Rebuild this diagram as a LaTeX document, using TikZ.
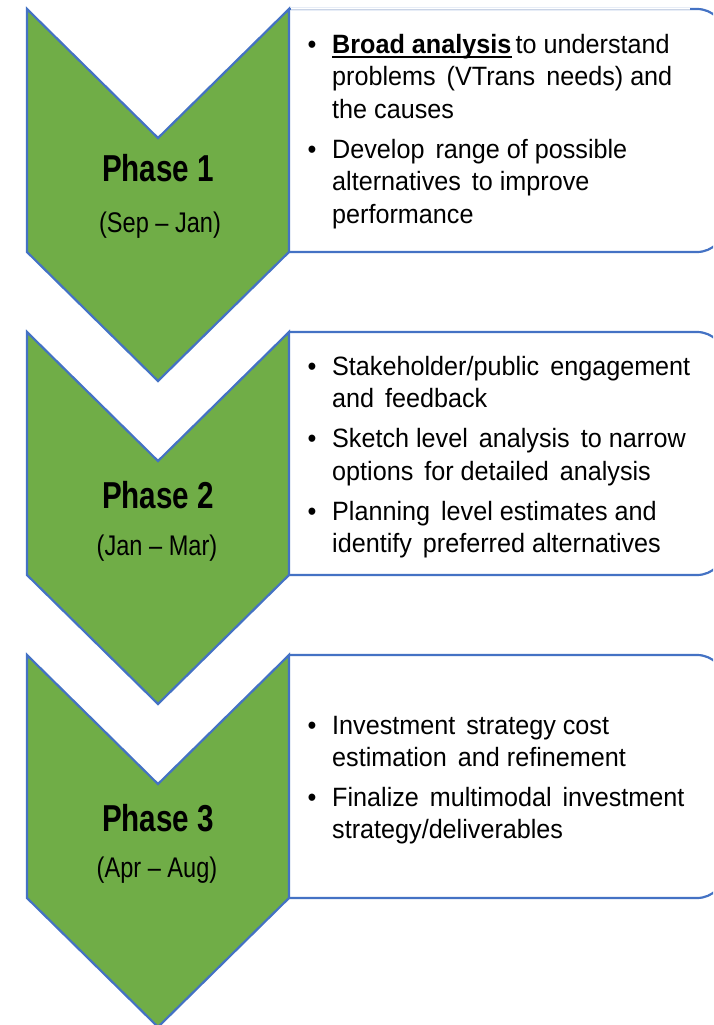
\documentclass[tikz,border=0pt]{standalone}
\usepackage{fontspec}
\setmainfont{Liberation Sans}
\newfontfamily\bodyfont{Liberation Sans}[FakeStretch=0.95]
\newfontfamily\titlefont{Liberation Sans}[FakeStretch=0.79]
\newfontfamily\periodfont{Liberation Sans}[FakeStretch=0.83]

\definecolor{phasegreen}{HTML}{70AD47}
\definecolor{edgeblue}{HTML}{4472C4}
\definecolor{paleedge}{HTML}{C9D3E5}

\newcommand{\wsp}{\hspace{11pt}}

\tikzset{
  chevron/.style={fill=phasegreen, draw=edgeblue, line width=2.2pt, line join=miter},
  notebox/.style={fill=white, draw=edgeblue, line width=2.2pt},
  txtline/.style={anchor=base west, inner sep=0pt,
    font=\bodyfont\fontsize{26.5}{32.5}\selectfont},
  bolditem/.style={anchor=base west, inner sep=0pt,
    font=\bodyfont\bfseries\fontsize{26.5}{32.5}\selectfont},
  bulletdot/.style={anchor=base, inner sep=0pt,
    font=\bodyfont\fontsize{26.5}{32.5}\selectfont},
  phasetitle/.style={anchor=base, inner sep=0pt,
    font=\titlefont\bfseries\fontsize{37.5}{40}\selectfont},
  phaseperiod/.style={anchor=base, inner sep=0pt,
    font=\periodfont\fontsize{28.4}{30}\selectfont},
}

% one phase: chevron plus note box, top edge at #1
\newcommand{\phaserow}[1]{%
  \draw[notebox] (289,#1) [rounded corners=28pt]-- (725,#1) -- (725,#1+243)
        [sharp corners]-- (289,#1+243);
  \draw[chevron] (27,#1) -- (158,#1+129) -- (289,#1) -- (289,#1+243)
        -- (158,#1+372) -- (27,#1+243) -- cycle;
}

\begin{document}
\begin{tikzpicture}[x=1pt,y=-1pt]
  \useasboundingbox (0,0) rectangle (713,1025);
  \fill[white] (0,0) rectangle (713,1025);
  \clip (0,0) rectangle (713,1025);

  \phaserow{9}
  \phaserow{332}
  \phaserow{655}

  % faint top rule of the first box
  \draw[white, line width=2.8pt] (291,9) -- (690,9);
  \draw[paleedge, line width=1pt] (291,9.5) -- (690,9.5);

  % phase labels
  \node[phasetitle] (p1) at (158,181) {Phase 1};
  \node[phaseperiod] (d1) at (160,232) {(Sep – Jan)};
  \node[phasetitle] (p2) at (158,508) {Phase 2};
  \node[phaseperiod] (d2) at (157,555) {(Jan – Mar)};
  \node[phasetitle] (p3) at (158,831) {Phase 3};
  \node[phaseperiod] (d3) at (157,877) {(Apr – Aug)};

  % first box
  \node[bulletdot] (b1a) at (312,53) {•};
  \node[bolditem] (u1) at (332,53) {Broad analysis};
  \draw[black, line width=2pt] ([yshift=-4.5pt]u1.base west) -- ([yshift=-4.5pt]u1.base east);
  \node[txtline] (l1a) at ([xshift=4pt]u1.base east) {to understand};
  \node[txtline] (l1b) at (332,85.5) {problems\wsp(VTrans\wsp needs) and};
  \node[txtline] (l1c) at (332,118) {the causes};
  \node[bulletdot] (b1b) at (312,158) {•};
  \node[txtline] (l1d) at (332,158) {Develop\wsp range of possible};
  \node[txtline] (l1e) at (332,190.5) {alternatives\wsp to improve};
  \node[txtline] (l1f) at (332,223) {performance};

  % second box
  \node[bulletdot] (b2a) at (312,375) {•};
  \node[txtline] (l2a) at (332,375) {Stakeholder/public\wsp engagement};
  \node[txtline] (l2b) at (332,407.5) {and\wsp feedback};
  \node[bulletdot] (b2b) at (312,447.5) {•};
  \node[txtline] (l2c) at (332,447.5) {Sketch level\wsp analysis\wsp to narrow};
  \node[txtline] (l2d) at (332,480) {options\wsp for detailed\wsp analysis};
  \node[bulletdot] (b2c) at (312,520) {•};
  \node[txtline] (l2e) at (332,520) {Planning\wsp level estimates and};
  \node[txtline] (l2f) at (332,552.5) {identify\wsp preferred alternatives};

  % third box
  \node[bulletdot] (b3a) at (312,734) {•};
  \node[txtline] (l3a) at (332,734) {Investment\wsp strategy cost};
  \node[txtline] (l3b) at (332,766) {estimation\wsp and refinement};
  \node[bulletdot] (b3b) at (312,806) {•};
  \node[txtline] (l3c) at (332,806) {Finalize\wsp multimodal\wsp investment};
  \node[txtline] (l3d) at (332,838) {strategy/deliverables};
\end{tikzpicture}
\end{document}
